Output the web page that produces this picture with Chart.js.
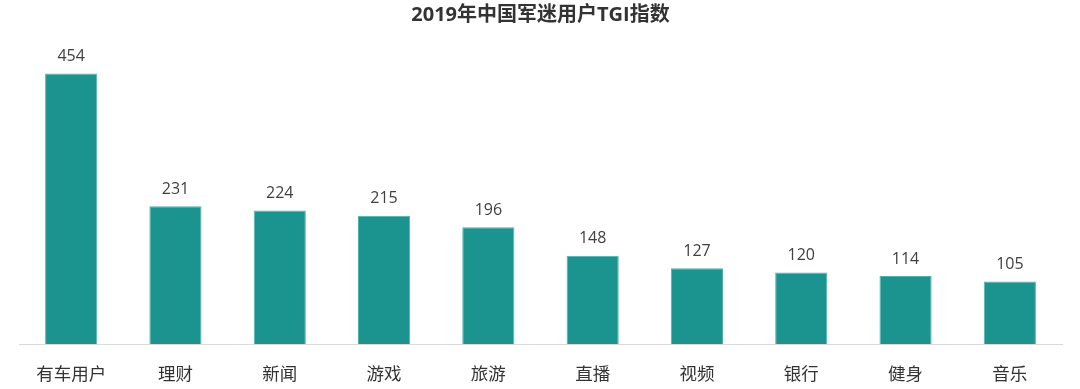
<!DOCTYPE html>
<html>
<head>
<meta charset="utf-8">
<script src="https://cdn.jsdelivr.net/npm/chart.js@4"></script>
<style>
  html, body { margin: 0; padding: 0; background: #fff; }
  #wrap { width: 1080px; height: 389px; }
</style>
</head>
<body>
<div id="wrap"><canvas id="myChart" width="1080" height="389"></canvas></div>
<script>
const categories = ['有车用户', '理财', '新闻', '游戏', '旅游', '直播', '视频', '银行', '健身', '音乐'];
const tgiValues = [454, 231, 224, 215, 196, 148, 127, 120, 114, 105];
const chartTitle = '2019年中国军迷用户TGI指数';

const fontFamily = '"Open Sans", "Noto Sans CJK SC", sans-serif';

// simple value labels above each bar
const barLabels = {
    id: 'barLabels',
    afterDatasetsDraw(chart) {
        const ctx = chart.ctx;
        const meta = chart.getDatasetMeta(0);
        ctx.save();
        ctx.font = '16px ' + fontFamily;
        ctx.fillStyle = '#404040';
        ctx.textAlign = 'center';
        ctx.textBaseline = 'bottom';
        meta.data.forEach((bar, i) => {
            ctx.fillText(chart.data.datasets[0].data[i], bar.x, bar.y - 9);
        });
        ctx.restore();
    }
};

const ctx = document.getElementById('myChart').getContext('2d');
const myChart = new Chart(ctx, {
    type: 'bar',
    data: {
        labels: categories,
        datasets: [{
            label: 'TGI',
            data: tgiValues,
            backgroundColor: '#1b9490',
            borderColor: '#4fb3ae',
            borderWidth: 1,
            barPercentage: 1,
            categoryPercentage: 0.5
        }]
    },
    options: {
        responsive: false,
        animation: false,
        layout: { padding: { left: 19, right: 18, top: 0, bottom: 0 } },
        plugins: {
            legend: { display: false },
            tooltip: { enabled: false },
            title: {
                display: true,
                text: chartTitle,
                color: '#333',
                font: { family: fontFamily, size: 20, weight: 'bold' },
                padding: { top: 3, bottom: 19 }
            }
        },
        scales: {
            x: {
                grid: { display: false, drawTicks: false, tickLength: 0 },
                border: { display: true, color: '#d9d9d9' },
                ticks: {
                    color: '#333',
                    padding: 21,
                    font: { family: fontFamily, size: 17.5 }
                },
                afterFit(scale) { scale.height = 45; }
            },
            y: {
                display: false,
                min: 0,
                max: 500
            }
        }
    },
    plugins: [barLabels]
});
</script>
</body>
</html>
